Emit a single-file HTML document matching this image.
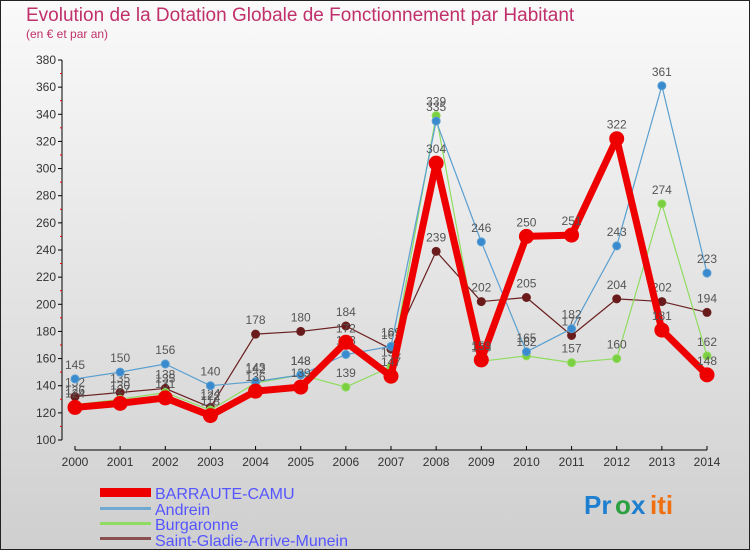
<!DOCTYPE html>
<html><head><meta charset="utf-8"><style>
body{margin:0;width:750px;height:550px;overflow:hidden;font-family:"Liberation Sans",sans-serif}
</style></head><body>
<svg id="c" width="750" height="550" xmlns="http://www.w3.org/2000/svg">
<defs><linearGradient id="bg" x1="0" y1="0" x2="0" y2="1"><stop offset="0" stop-color="#fafafa"/><stop offset="1" stop-color="#cfcfcf"/></linearGradient></defs>
<rect x="0.5" y="0.5" width="749" height="549" fill="url(#bg)" stroke="#222"/>
<text x="26" y="21" font-size="19" fill="#c0306a">Evolution de la Dotation Globale de Fonctionnement par Habitant</text>
<text x="26" y="38" font-size="12" fill="#c0306a">(en € et par an)</text>
<g id="axes"></g><g id="series"></g>
<g>
<rect x="100" y="488" width="51" height="9" fill="#e00"/>
<text x="155" y="499" font-size="16" fill="#5555ff">BARRAUTE-CAMU</text>
<rect x="100" y="507" width="51" height="3" fill="#6fa8d0"/>
<text x="155" y="515" font-size="16" fill="#5555ff">Andrein</text>
<rect x="100" y="522" width="51" height="3" fill="#8fdc60"/>
<text x="155" y="530" font-size="16" fill="#5555ff">Burgaronne</text>
<rect x="100" y="537" width="51" height="3" fill="#8a5050"/>
<text x="155" y="546" font-size="16" fill="#5555ff">Saint-Gladie-Arrive-Munein</text>
</g>
<g font-size="26" font-weight="bold">
<text x="584" y="514" fill="#1e7fd0">Pr</text><text x="615" y="514" fill="#2aa040">o</text><text x="631" y="514" fill="#1e7fd0">x</text><text x="650" y="514" fill="#f07010">iti</text>
</g>
</svg>
<script>
const years=[2000,2001,2002,2003,2004,2005,2006,2007,2008,2009,2010,2011,2012,2013,2014];
const yTicks=[100,120,140,160,180,200,220,240,260,280,300,320,340,360,380];
const barraute=[124,127,131,118,136,139,172,147,304,159,250,251,322,181,148];
const andrein=[145,150,156,140,143,148,163,169,335,246,165,182,243,361,223];
const burgaronne=[126,130,135,122,142,148,139,154,339,158,162,157,160,274,162];
const saintGladie=[132,135,138,124,178,180,184,167,239,202,205,177,204,202,194];
const NS="http://www.w3.org/2000/svg";
const xS=i=>75+i*(707-75)/(years.length-1);
const yS=v=>440-(v-100)*(380/280);
function mk(t,a,p){const e=document.createElementNS(NS,t);for(const k in a)e.setAttribute(k,a[k]);p.appendChild(e);return e;}
const ax=document.getElementById('axes');
mk('line',{x1:62,y1:60,x2:62,y2:440,stroke:'#000'},ax);
mk('line',{x1:75,y1:450,x2:707,y2:450,stroke:'#000'},ax);
yTicks.forEach(v=>{const y=yS(v);
 mk('line',{x1:58,y1:y,x2:62,y2:y,stroke:'#000'},ax);
 const t=mk('text',{x:56,y:y+4,'font-size':12,fill:'#333','text-anchor':'end'},ax);t.textContent=v;
 
 
 if(v<380){mk('line',{x1:60,y1:y-13.6,x2:62,y2:y-13.6,stroke:'#e00'},ax);}
});
years.forEach((yr,i)=>{const x=xS(i);
 mk('line',{x1:x,y1:446,x2:x,y2:450,stroke:'#000'},ax);
 const t=mk('text',{x:x,y:466,'font-size':12,fill:'#333','text-anchor':'middle'},ax);t.textContent=yr;
 
 
});
const sg=document.getElementById('series');
function draw(name,data,color,w,r,dot){
 const g=mk('g',{},sg);
 
 
 mk('polyline',{points:data.map((v,i)=>xS(i)+','+yS(v)).join(' '),fill:'none',stroke:color,'stroke-width':w,'stroke-linejoin':'round'},g);
 data.forEach((v,i)=>{const c=mk('circle',{cx:xS(i),cy:yS(v),r:r,fill:dot,stroke:color,'stroke-width':1},g);
  
  
  const t=mk('text',{x:xS(i),y:yS(v)-10,'font-size':12,fill:'#555','text-anchor':'middle'},g);t.textContent=v;
  
  
 });
}
draw('saint-gladie',saintGladie,'#6a2020',1.2,4,'#6a1a1a');
draw('burgaronne',burgaronne,'#8fdc60',1.2,4,'#7ad040');
draw('andrein',andrein,'#5a9fd0',1.2,4,'#3a8ad0');
draw('barraute',barraute,'#ee0000',7,7,'#ee0000');
</script>
</body></html>
